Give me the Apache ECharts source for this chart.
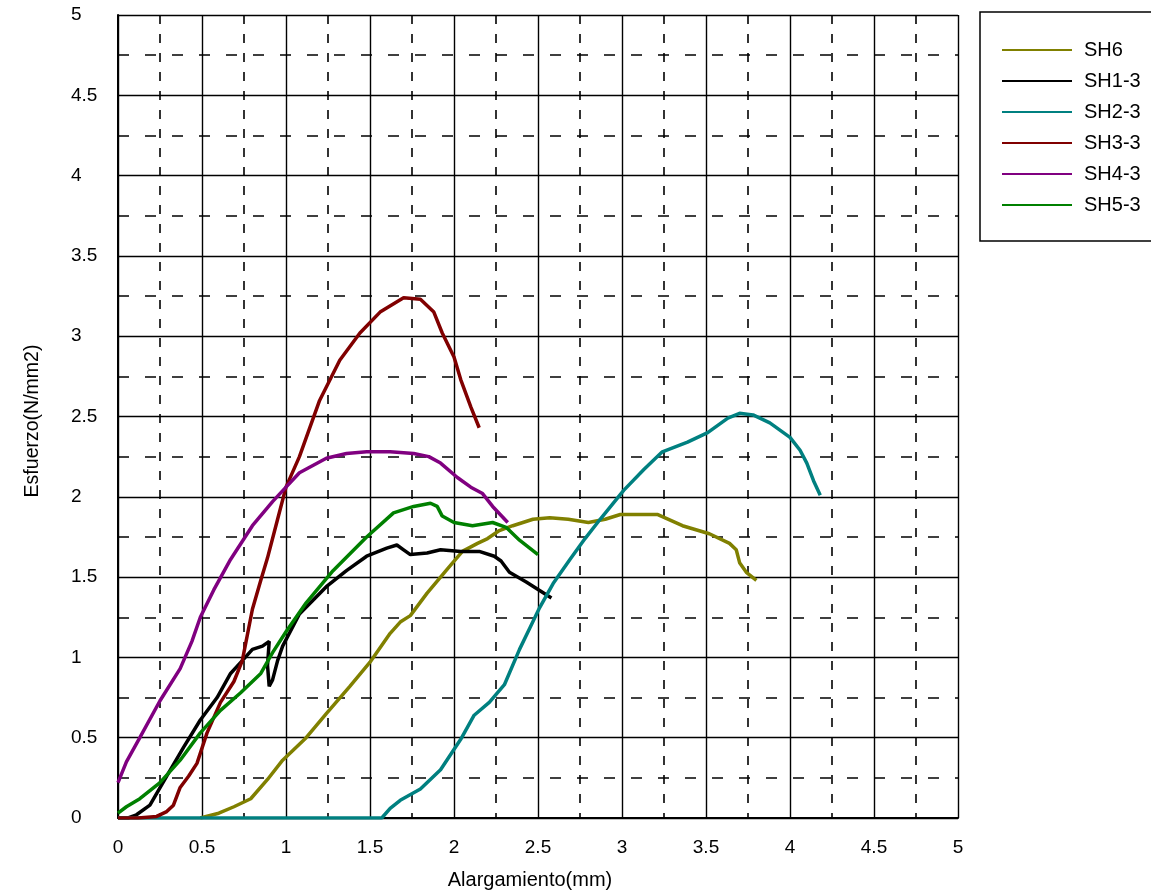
<!DOCTYPE html>
<html>
<head>
<meta charset="utf-8">
<script src="https://cdn.jsdelivr.net/npm/echarts@6/dist/echarts.min.js"></script>
<style>
html,body{margin:0;padding:0;background:#fff;}
#chart{width:1151px;height:894px;}
</style>
</head>
<body>
<div id="chart"></div>
<script>
const seriesNames = ['SH6','SH1-3','SH2-3','SH3-3','SH4-3','SH5-3'];
const seriesColors = ['#808000','#000000','#008080','#800000','#800080','#008000'];
const xTickLabels = ['0','0.5','1','1.5','2','2.5','3','3.5','4','4.5','5'];
const yTickLabels = ['0','0.5','1','1.5','2','2.5','3','3.5','4','4.5','5'];
const xTitle = 'Alargamiento(mm)';
const yTitle = 'Esfuerzo(N/mm2)';

const sh6 = [[0.49,0],[0.6,0.03],[0.69,0.07],[0.79,0.12],[0.89,0.24],[0.98,0.36],[1.12,0.5],[1.24,0.65],[1.38,0.82],[1.5,0.97],[1.62,1.15],[1.68,1.22],[1.74,1.26],[1.84,1.4],[1.96,1.55],[2.05,1.66],[2.14,1.71],[2.2,1.74],[2.27,1.79],[2.35,1.82],[2.47,1.86],[2.57,1.87],[2.68,1.86],[2.8,1.84],[2.9,1.86],[2.99,1.89],[3.1,1.89],[3.21,1.89],[3.36,1.82],[3.52,1.77],[3.64,1.71],[3.68,1.67],[3.7,1.59],[3.74,1.53],[3.8,1.48]];
const sh13 = [[0,0],[0.06,0],[0.11,0.02],[0.19,0.08],[0.29,0.26],[0.39,0.44],[0.49,0.61],[0.59,0.75],[0.67,0.9],[0.74,0.98],[0.8,1.05],[0.86,1.07],[0.9,1.1],[0.89,0.95],[0.9,0.82],[0.92,0.86],[0.95,0.98],[0.98,1.07],[1.08,1.27],[1.24,1.44],[1.36,1.54],[1.48,1.63],[1.6,1.68],[1.66,1.7],[1.7,1.67],[1.74,1.64],[1.84,1.65],[1.92,1.67],[2.04,1.66],[2.15,1.66],[2.24,1.63],[2.28,1.6],[2.33,1.53],[2.43,1.47],[2.58,1.37]];
const sh23 = [[0,0],[0.5,0],[1,0],[1.5,0],[1.57,0],[1.62,0.06],[1.68,0.11],[1.8,0.18],[1.92,0.3],[2.04,0.49],[2.12,0.64],[2.21,0.72],[2.3,0.83],[2.39,1.05],[2.45,1.18],[2.51,1.31],[2.59,1.46],[2.69,1.61],[2.78,1.74],[2.87,1.86],[3.01,2.04],[3.13,2.17],[3.24,2.28],[3.39,2.34],[3.51,2.4],[3.63,2.49],[3.7,2.52],[3.78,2.51],[3.88,2.46],[4.0,2.37],[4.06,2.29],[4.1,2.21],[4.14,2.1],[4.18,2.01]];
const sh33 = [[0,0],[0.12,0],[0.23,0.01],[0.29,0.04],[0.33,0.08],[0.37,0.19],[0.42,0.26],[0.47,0.34],[0.53,0.53],[0.61,0.72],[0.69,0.85],[0.74,0.98],[0.8,1.3],[0.85,1.48],[0.89,1.62],[0.95,1.86],[1.0,2.06],[1.08,2.25],[1.2,2.6],[1.32,2.85],[1.44,3.02],[1.56,3.15],[1.7,3.24],[1.8,3.23],[1.88,3.15],[1.93,3.02],[2.0,2.87],[2.04,2.73],[2.1,2.56],[2.15,2.43]];
const sh43 = [[0,0.22],[0.05,0.35],[0.13,0.5],[0.25,0.73],[0.37,0.93],[0.44,1.1],[0.49,1.25],[0.57,1.42],[0.67,1.61],[0.8,1.82],[0.92,1.97],[1.0,2.06],[1.08,2.15],[1.24,2.24],[1.36,2.27],[1.48,2.28],[1.62,2.28],[1.76,2.27],[1.85,2.25],[1.92,2.21],[2.02,2.12],[2.1,2.06],[2.17,2.02],[2.23,1.94],[2.32,1.84]];
const sh53 = [[0,0.03],[0.05,0.07],[0.13,0.12],[0.25,0.22],[0.37,0.36],[0.49,0.53],[0.61,0.67],[0.73,0.78],[0.85,0.9],[0.92,1.03],[1.0,1.16],[1.12,1.34],[1.28,1.54],[1.48,1.75],[1.64,1.9],[1.76,1.94],[1.86,1.96],[1.9,1.94],[1.93,1.88],[2.0,1.84],[2.11,1.82],[2.23,1.84],[2.31,1.81],[2.39,1.73],[2.5,1.64]];
const seriesData = [sh6, sh13, sh23, sh33, sh43, sh53];

const FONT = '"Liberation Sans", Arial, sans-serif';
const chart = echarts.init(document.getElementById('chart'), null, {renderer:'canvas'});

function fmt(labels){ return function(v){ const i = Math.round(v/0.5); return labels[i] !== undefined ? labels[i] : ''; }; }

chart.setOption({
  animation: false,
  backgroundColor: '#ffffff',
  grid: {left: 118, top: 15, right: 193, bottom: 76, containLabel: false},
  xAxis: {
    type: 'value', min: 0, max: 5, interval: 0.5,
    axisLine: {show: true, onZero: false, lineStyle: {color: '#000', width: 2}},
    axisTick: {show: false},
    axisLabel: {color: '#000', fontSize: 19, fontFamily: FONT, margin: 20, formatter: fmt(xTickLabels)},
    splitLine: {show: true, lineStyle: {color: '#000', width: 1.4}},
    minorTick: {show: false, splitNumber: 2},
    minorSplitLine: {show: true, lineStyle: {color: '#000', width: 1.6, type: [9, 10]}}
  },
  yAxis: {
    type: 'value', min: 0, max: 5, interval: 0.5,
    axisLine: {show: true, onZero: false, lineStyle: {color: '#000', width: 2}},
    axisTick: {show: false},
    axisLabel: {color: '#000', fontSize: 19, fontFamily: FONT, margin: 47, align: 'left', formatter: fmt(yTickLabels)},
    splitLine: {show: true, lineStyle: {color: '#000', width: 1.4}},
    minorTick: {show: false, splitNumber: 2},
    minorSplitLine: {show: true, lineStyle: {color: '#000', width: 1.6, type: [11, 16]}}
  },
  legend: {
    orient: 'vertical', left: 980, top: 12,
    data: seriesNames,
    backgroundColor: '#fff',
    borderColor: '#000', borderWidth: 1.5,
    padding: [28, 40, 26, 22],
    itemWidth: 70, itemHeight: 14, itemGap: 11,
    icon: 'path://M0,6L70,6L70,8L0,8Z',
    textStyle: {color: '#000', fontSize: 20, fontFamily: FONT, padding: [0, 0, 0, 7]}
  },
  graphic: [
    {type: 'text', x: 530, y: 880, style: {text: xTitle, fill: '#000', font: '20px ' + FONT, textAlign: 'center', textVerticalAlign: 'middle'}},
    {type: 'text', x: 33, y: 421, rotation: Math.PI/2, style: {text: yTitle, fill: '#000', font: '19.5px ' + FONT, textAlign: 'center', textVerticalAlign: 'middle'}}
  ],
  series: seriesNames.map((n, i) => ({
    name: n, type: 'line', data: seriesData[i], symbol: 'none', smooth: false,
    lineStyle: {color: seriesColors[i], width: 3.5},
    itemStyle: {color: seriesColors[i]},
    z: 3
  }))
});
</script>
</body>
</html>
